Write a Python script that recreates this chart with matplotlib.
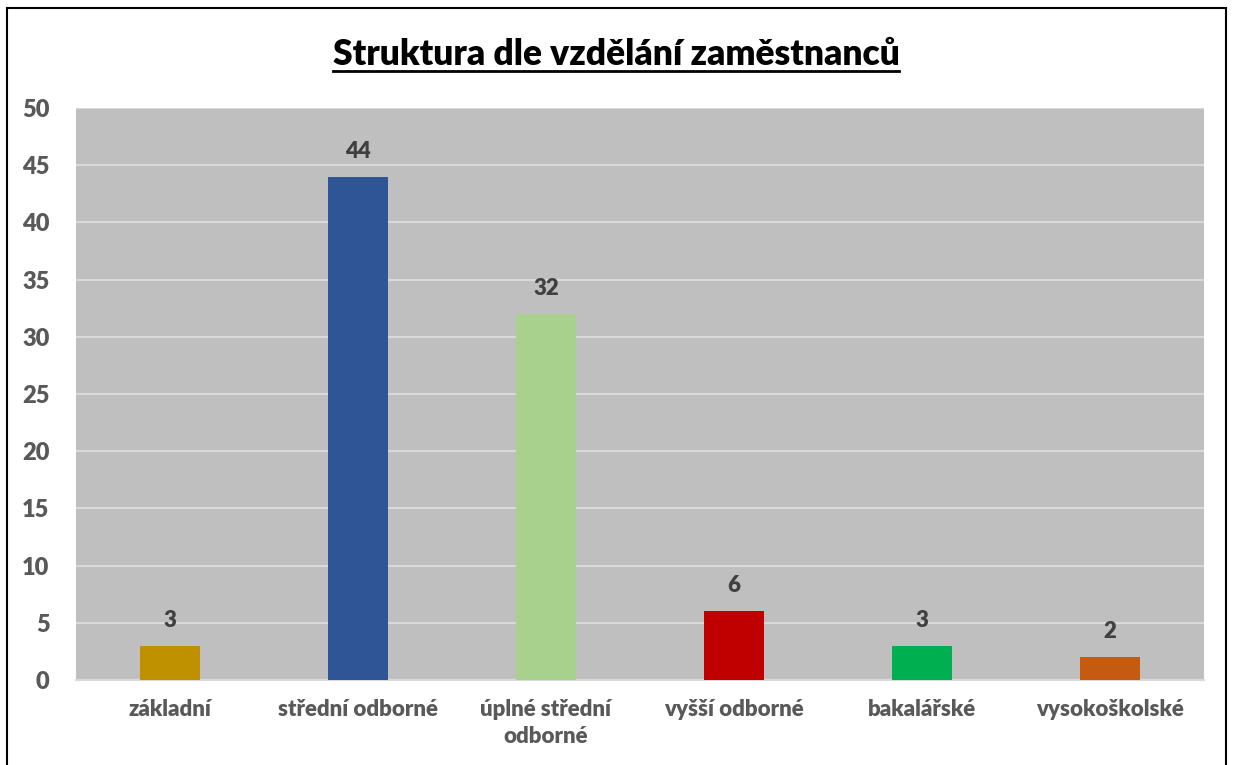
import matplotlib
matplotlib.use('Agg')
from matplotlib import pyplot as plt
from matplotlib.patches import Rectangle
from matplotlib.lines import Line2D

kategorie = ['základní', 'střední odborné', 'úplné střední\nodborné',
             'vyšší odborné', 'bakalářské', 'vysokoškolské']
pocty = [3, 44, 32, 6, 3, 2]
barvy = ['#BF9000', '#2F5597', '#A9D18E', '#C00000', '#00B050', '#C55A11']
y_ticks = [0, 5, 10, 15, 20, 25, 30, 35, 40, 45, 50]

plt.rcParams['font.family'] = ['Lato', 'DejaVu Sans']

fig = plt.figure(figsize=(12.33, 7.65), dpi=100)
ax = fig.add_axes([76 / 1233, 1 - 680 / 765, (1204 - 76) / 1233, (680 - 108) / 765])
ax.set_facecolor('#BFBFBF')

x = range(len(kategorie))
bars = ax.bar(x, pocty, width=0.315, color=barvy, zorder=3)

for b, v in zip(bars, pocty):
    ax.text(b.get_x() + b.get_width() / 2, v + 1.3, str(v), ha='center', va='bottom',
            fontsize=16, fontweight='heavy', color='#404040', zorder=4)

ax.set_xlim(-0.5, len(kategorie) - 0.5)
ax.set_ylim(0, 50)
ax.set_yticks(y_ticks)
ax.set_xticks(list(x))
ax.set_xticklabels(kategorie, linespacing=1.35)
ax.grid(axis='y', color='#D9D9D9', linewidth=1.5, zorder=1)
ax.tick_params(length=0)
ax.tick_params(axis='y', pad=19, labelsize=17, labelcolor='#595959')
ax.tick_params(axis='x', pad=14, labelsize=16, labelcolor='#595959')
for lbl in ax.get_xticklabels() + ax.get_yticklabels():
    lbl.set_fontweight('heavy')
for s in ['top', 'right', 'left']:
    ax.spines[s].set_visible(False)
ax.spines['bottom'].set_color('#D9D9D9')
ax.spines['bottom'].set_linewidth(1.5)

titulek = fig.text(616 / 1233, 1 - 65 / 765, 'Struktura dle vzdělání zaměstnanců',
                   ha='center', va='baseline', fontsize=25.5, fontweight='heavy', color='black')

# podtrzeni titulku
fig.canvas.draw()
bb = titulek.get_window_extent().transformed(fig.transFigure.inverted())
fig.add_artist(Line2D([bb.x0, bb.x1], [1 - 71 / 765, 1 - 71 / 765],
                      transform=fig.transFigure, color='black', linewidth=2))

# ramecek kolem grafu
fig.add_artist(Rectangle((7 / 1233, -0.05), (1226 - 7) / 1233, 1.05 - 8 / 765,
                         transform=fig.transFigure, fill=False, edgecolor='black', linewidth=1.5))

fig.savefig('out.png', dpi=100)
